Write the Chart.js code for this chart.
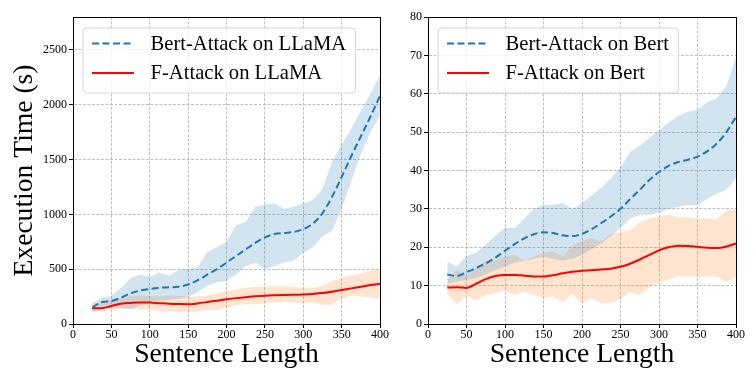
<!DOCTYPE html>
<html>
<head>
<meta charset="utf-8">
<script src="https://cdn.jsdelivr.net/npm/chart.js@4/dist/chart.umd.min.js"></script>
<style>
  html, body { margin: 0; padding: 0; background: #fff; }
  #wrap { position: relative; width: 754px; height: 387px; overflow: hidden; }
  canvas { position: absolute; top: 0; }
  #c1 { left: 0; }
  #c2 { left: 385px; }
</style>
</head>
<body>
<div id="wrap">
  <canvas id="c1" width="400" height="387"></canvas>
  <canvas id="c2" width="369" height="387"></canvas>
</div>
<script>
// ---------- data ----------
const sentenceLengths = [25, 37.5, 50, 62.5, 75, 87.5, 100, 112.5, 125, 137.5, 150, 162.5, 175, 187.5, 200, 212.5, 225, 237.5, 250, 262.5, 275, 287.5, 300, 312.5, 325, 337.5, 350, 362.5, 375, 387.5, 400];

// Left panel (LLaMA)
const bertLlamaMean  = [150, 200, 210, 240, 280, 305, 320, 330, 335, 340, 360, 400, 450, 500, 560, 620, 680, 740, 790, 820, 830, 840, 865, 915, 1010, 1160, 1340, 1530, 1710, 1890, 2080];
const bertLlamaLow   = [110, 140, 150, 150, 135, 170, 200, 215, 220, 230, 250, 290, 350, 380, 395, 450, 530, 560, 500, 530, 560, 580, 650, 700, 800, 850, 1050, 1300, 1550, 1750, 1900];
const bertLlamaHigh  = [190, 240, 255, 330, 420, 450, 430, 470, 440, 490, 505, 515, 660, 700, 750, 900, 930, 1070, 1090, 1100, 1050, 1070, 1100, 1130, 1230, 1480, 1640, 1780, 1940, 2100, 2270];
const fLlamaMean     = [143, 143, 165, 185, 192, 196, 195, 190, 185, 182, 180, 188, 200, 213, 225, 236, 245, 252, 258, 262, 265, 267, 268, 273, 283, 295, 310, 325, 340, 355, 367];
const fLlamaLow      = [110, 115, 130, 140, 140, 135, 130, 120, 115, 110, 110, 115, 130, 125, 150, 170, 180, 180, 190, 200, 205, 195, 190, 200, 175, 175, 230, 260, 250, 240, 235];
const fLlamaHigh     = [180, 200, 220, 240, 255, 260, 255, 250, 260, 255, 250, 250, 260, 280, 300, 315, 330, 340, 340, 345, 345, 335, 330, 330, 350, 390, 420, 440, 460, 480, 500];

// Right panel (Bert)
const bertBertMean   = [12.9, 12.5, 13.5, 14.6, 15.8, 17.3, 19.1, 20.8, 22.3, 23.4, 23.9, 23.7, 23.1, 22.9, 23.5, 24.7, 26.3, 28.0, 30.0, 32.5, 35.0, 37.5, 39.6, 41.2, 42.2, 42.8, 43.6, 45.0, 47.0, 50.0, 54.0];
const bertBertLow    = [10.5, 11.0, 11.5, 12.0, 13.0, 14.0, 15.0, 16.0, 16.5, 17.0, 17.5, 17.0, 16.5, 17.0, 18.0, 19.5, 21.0, 23.0, 25.0, 27.5, 28.5, 28.5, 29.0, 30.0, 30.5, 31.0, 31.0, 32.5, 34.0, 35.0, 38.0];
const bertBertHigh   = [16.2, 15.0, 17.8, 18.5, 20.8, 23.0, 25.0, 25.1, 27.5, 30.0, 31.0, 31.0, 31.5, 30.0, 31.5, 33.5, 35.5, 38.0, 41.0, 44.8, 46.5, 48.5, 50.5, 52.5, 54.2, 55.3, 55.8, 57.8, 58.8, 62.0, 69.5];
const fBertMean      = [9.5, 9.6, 9.4, 10.5, 11.7, 12.5, 12.8, 12.8, 12.6, 12.4, 12.4, 12.7, 13.2, 13.6, 13.9, 14.0, 14.2, 14.4, 14.9, 15.7, 16.8, 18.0, 19.2, 20.0, 20.4, 20.3, 20.1, 19.9, 19.8, 20.2, 21.0];
const fBertLow       = [8.0, 5.2, 7.4, 6.2, 7.5, 8.0, 8.8, 7.5, 8.5, 7.5, 6.8, 7.2, 5.8, 7.8, 5.5, 6.8, 5.5, 5.5, 6.5, 8.3, 7.6, 9.5, 10.8, 11.5, 12.5, 12.4, 12.4, 12.3, 12.3, 11.0, 12.3];
const fBertHigh      = [11.5, 14.0, 12.5, 14.5, 16.5, 16.5, 17.5, 18.0, 16.5, 17.5, 18.5, 19.0, 17.5, 20.5, 21.5, 22.5, 21.5, 23.5, 24.0, 24.5, 26.5, 27.5, 28.0, 28.5, 27.8, 27.8, 27.5, 27.5, 27.2, 29.5, 30.0];

const xTicks = [0, 50, 100, 150, 200, 250, 300, 350, 400];
const leftYTicks = [0, 500, 1000, 1500, 2000, 2500];
const rightYTicks = [0, 10, 20, 30, 40, 50, 60, 70, 80];

const labelsLeft  = ['Bert-Attack on LLaMA', 'F-Attack on LLaMA'];
const labelsRight = ['Bert-Attack on Bert', 'F-Attack on Bert'];
const xTitle = 'Sentence Length';
const yTitle = 'Execution Time (s)';

// ---------- styling ----------
const SERIF = "'Liberation Serif', 'Times New Roman', serif";
const BLUE = '#1f77b4';
const RED = '#ff0000';
const BLUE_FILL = 'rgba(31,119,180,0.2)';
const ORANGE_FILL = 'rgba(255,127,14,0.2)';
const GRID = '#b0b0b0';

function pts(ys) { return sentenceLengths.map((x, i) => ({x: x, y: ys[i]})); }

function bandDatasets(low, high, fillColor) {
  return [
    { label: '_low', data: pts(low), borderWidth: 0, pointRadius: 0, fill: false, tension: 0, order: 2, isBand: true, borderColor: 'transparent' },
    { label: '_high', data: pts(high), borderWidth: 0, pointRadius: 0, fill: '-1', backgroundColor: fillColor, tension: 0, order: 2, isBand: true, borderColor: 'transparent' }
  ];
}

// box + legend plugin
const frameLegend = {
  id: 'frameLegend',
  afterDraw(chart) {
    const {ctx, chartArea: a} = chart;
    ctx.save();
    ctx.strokeStyle = '#000';
    ctx.lineWidth = 1;
    ctx.strokeRect(Math.round(a.left) + 0.5, Math.round(a.top) + 0.5, Math.round(a.right - a.left), Math.round(a.bottom - a.top));
    // legend
    const items = chart.data.datasets.filter(d => !d.isBand);
    const bx = a.left + 10, by = a.top + 11;
    const fontSize = 20.6;
    ctx.font = fontSize + 'px ' + SERIF;
    let maxW = 0;
    items.forEach(d => { maxW = Math.max(maxW, ctx.measureText(d.label).width); });
    const handleX0 = bx + 9, handleLen = 42, textX = handleX0 + handleLen + 16.5;
    const bw = textX - bx + maxW + 9.5, bh = 65;
    const r = 4;
    ctx.beginPath();
    ctx.moveTo(bx + r, by);
    ctx.lineTo(bx + bw - r, by);
    ctx.quadraticCurveTo(bx + bw, by, bx + bw, by + r);
    ctx.lineTo(bx + bw, by + bh - r);
    ctx.quadraticCurveTo(bx + bw, by + bh, bx + bw - r, by + bh);
    ctx.lineTo(bx + r, by + bh);
    ctx.quadraticCurveTo(bx, by + bh, bx, by + bh - r);
    ctx.lineTo(bx, by + r);
    ctx.quadraticCurveTo(bx, by, bx + r, by);
    ctx.closePath();
    ctx.fillStyle = 'rgba(255,255,255,0.8)';
    ctx.fill();
    ctx.strokeStyle = '#d6d6d6';
    ctx.lineWidth = 1;
    ctx.stroke();
    items.forEach((d, i) => {
      const cy = by + 15.5 + i * 29.4;
      ctx.beginPath();
      ctx.setLineDash(d.borderDash || []);
      ctx.strokeStyle = d.borderColor;
      ctx.lineWidth = d.borderWidth;
      ctx.moveTo(handleX0, cy);
      ctx.lineTo(handleX0 + handleLen, cy);
      ctx.stroke();
      ctx.setLineDash([]);
      ctx.fillStyle = '#000';
      ctx.textBaseline = 'middle';
      ctx.textAlign = 'left';
      ctx.fillText(d.label, textX, cy + 1);
    });
    ctx.restore();
  }
};

function makeChart(canvasId, cfg) {
  const yScale = {
    type: 'linear',
    min: 0,
    max: cfg.yMax,
    afterFit: s => { s.width = cfg.yWidth; },
    afterBuildTicks: s => { s.ticks = cfg.yTicks.map(v => ({value: v})); },
    ticks: { font: {family: SERIF, size: 12}, color: '#000', padding: 2, callback: v => String(v) },
    grid: { color: GRID, lineWidth: 0.8, tickColor: '#000', tickLength: 4, tickWidth: 1 },
    border: { display: true, color: '#000', width: 1, dash: [3, 1.5] },
    title: cfg.yTitle ? { display: true, text: cfg.yTitle, font: {family: SERIF, size: 27.6}, color: '#000', padding: {top: 8, bottom: 0} } : { display: false }
  };
  const xScale = {
    type: 'linear',
    min: 0,
    max: 400,
    afterFit: s => { s.height = 63; },
    afterBuildTicks: s => { s.ticks = xTicks.map(v => ({value: v})); },
    ticks: { font: {family: SERIF, size: 12}, color: '#000', padding: 0, maxRotation: 0, callback: v => String(v) },
    grid: { color: GRID, lineWidth: 0.8, tickColor: '#000', tickLength: 4, tickWidth: 1 },
    border: { display: true, color: '#000', width: 1, dash: [3, 1.5] },
    title: { display: true, text: xTitle, font: {family: SERIF, size: 27.6}, color: '#000', padding: {top: 0, bottom: 16} }
  };
  return new Chart(document.getElementById(canvasId), {
    type: 'line',
    data: { datasets: cfg.datasets },
    options: {
      responsive: false,
      animation: false,
      devicePixelRatio: 1,
      layout: { padding: cfg.padding },
      plugins: { legend: { display: false }, tooltip: { enabled: false }, frameLegend: {} },
      scales: { x: xScale, y: yScale }
    },
    plugins: [frameLegend]
  });
}

makeChart('c1', {
  yMax: 2800,
  yTicks: leftYTicks,
  yWidth: 73,
  yTitle: yTitle,
  padding: {top: 17, right: 20, bottom: 0, left: 0},
  datasets: [
    ...bandDatasets(bertLlamaLow, bertLlamaHigh, BLUE_FILL),
    ...bandDatasets(fLlamaLow, fLlamaHigh, ORANGE_FILL),
    { label: labelsLeft[0], data: pts(bertLlamaMean), borderColor: BLUE, borderWidth: 2, borderDash: [7, 3.5], pointRadius: 0, fill: false, tension: 0.4, cubicInterpolationMode: 'monotone', order: 0 },
    { label: labelsLeft[1], data: pts(fLlamaMean), borderColor: RED, borderWidth: 2, pointRadius: 0, fill: false, tension: 0.4, cubicInterpolationMode: 'monotone', order: 0 }
  ]
});

makeChart('c2', {
  yMax: 80,
  yTicks: rightYTicks,
  yWidth: 43,
  yTitle: null,
  padding: {top: 17, right: 18, bottom: 0, left: 0},
  datasets: [
    ...bandDatasets(bertBertLow, bertBertHigh, BLUE_FILL),
    ...bandDatasets(fBertLow, fBertHigh, ORANGE_FILL),
    { label: labelsRight[0], data: pts(bertBertMean), borderColor: BLUE, borderWidth: 2, borderDash: [7, 3.5], pointRadius: 0, fill: false, tension: 0.4, cubicInterpolationMode: 'monotone', order: 0 },
    { label: labelsRight[1], data: pts(fBertMean), borderColor: RED, borderWidth: 2, pointRadius: 0, fill: false, tension: 0.4, cubicInterpolationMode: 'monotone', order: 0 }
  ]
});
</script>
</body>
</html>
